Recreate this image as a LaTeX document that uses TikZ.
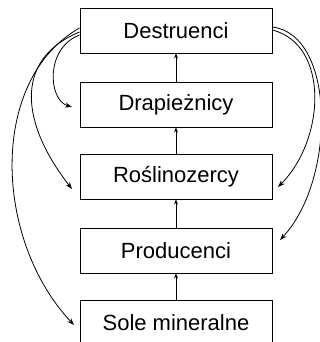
\documentclass[tikz,border=0pt]{standalone}
\usepackage{fontspec}
\setmainfont{Liberation Sans}
\usetikzlibrary{arrows.meta}
\begin{document}
\begin{tikzpicture}[x=1pt,y=-1pt,
  box/.style={draw,line width=0.9pt,minimum width=192pt,minimum height=45pt,inner sep=0pt,
    font=\fontsize{22}{26}\selectfont},
  link/.style={line width=0.8pt,-{Stealth[length=7pt,width=5pt]}},
  up/.style={line width=0.8pt,-{Stealth[length=5pt,width=4pt]}}]
\useasboundingbox (0,0) rectangle (320,342);
\node[box] (d) at (176,30.5) {Destruenci};
\node[box] (dr) at (176,104.5) {Drapieżnicy};
\node[box] (r) at (176,176.5) {Roślinozercy};
\node[box] (p) at (176,250.5) {Producenci};
\node[box] (s) at (176,322.5) {Sole mineralne};
\draw[up] (dr.north) -- (d.south);
\draw[up] (r.north) -- (dr.south);
\draw[up] (p.north) -- (r.south);
\draw[up] (s.north) -- (p.south);
% left curves
\coordinate (l1) at (72,107);
\coordinate (l2) at (72,189);
\coordinate (l3) at (74,325);
\draw[link] ([yshift=-4.5pt]d.west) .. controls (45,48) and (48,100) .. (l1);
\draw[link] ([yshift=-1.5pt]d.west) .. controls (12,60) and (22,125) .. (l2);
\draw[link] ([yshift=2.5pt]d.west) .. controls (-12,80) and (-6,240) .. (l3);
% right curves
\coordinate (r1) at (278,187);
\coordinate (r2) at (280,240);
\draw[link] ([yshift=0.5pt]d.east) .. controls (330,45) and (325,140) .. (r1);
\draw[link] ([yshift=3.5pt]d.east) .. controls (336,35) and (336,180) .. (r2);
\end{tikzpicture}
\end{document}
